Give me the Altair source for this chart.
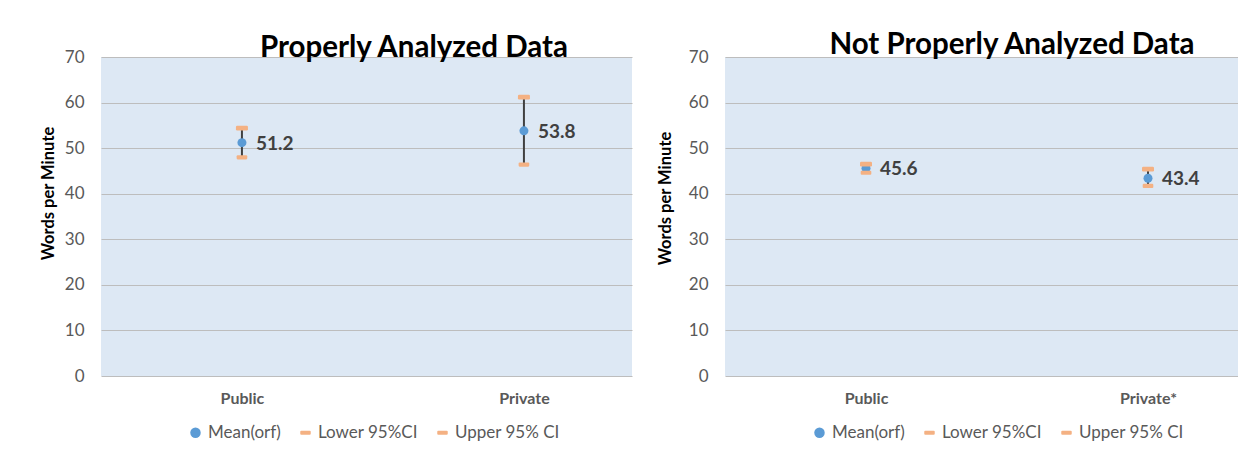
import altair as alt
import pandas as pd

# ---- data ----
titles = ["Properly Analyzed Data", "Not Properly Analyzed Data"]

categories_left = ["Public", "Private"]
mean_left = [51.2, 53.8]
lower_left = [48.0, 46.4]
upper_left = [54.4, 61.2]

categories_right = ["Public", "Private*"]
mean_right = [45.6, 43.4]
lower_right = [44.6, 41.7]
upper_right = [46.5, 45.4]

series_names = ["Mean(orf)", "Lower 95%CI", "Upper 95% CI"]
y_ticks = [0, 10, 20, 30, 40, 50, 60, 70]
y_title = "Words per Minute"

FONT = "Lato"
CAP = ("M-0.8,-0.4 L0.8,-0.4 Q1,-0.4 1,-0.2 L1,0.2 Q1,0.4 0.8,0.4 "
       "L-0.8,0.4 Q-1,0.4 -1,0.2 L-1,-0.2 Q-1,-0.4 -0.8,-0.4 Z")
BLUE = "#5b9bd5"
ORANGE = "#f4b183"


def panel(cats, means, lows, ups, title, width, x_pad, x_align,
          title_dx, title_dy, ytitle_x, ytitle_y):
    wide = pd.DataFrame({"cat": cats, "mean": means, "low": lows, "up": ups})
    n = len(cats)
    long = pd.DataFrame({
        "cat": cats * 3,
        "series": [series_names[0]] * n + [series_names[1]] * n + [series_names[2]] * n,
        "value": means + lows + ups,
        "order": list(range(3 * n)),
    })

    x = alt.X(
        "cat:N", sort=cats,
        scale=alt.Scale(type="point", padding=x_pad, align=x_align),
        axis=alt.Axis(title=None, domain=False, ticks=False, labelAngle=0,
                      labelFont=FONT, labelFontSize=16, labelFontWeight="bold",
                      labelColor="#595959", labelPadding=14),
    )
    y_scale = alt.Scale(domain=[0, 70], nice=False)
    y_axis = alt.Axis(
        values=y_ticks, title=y_title, grid=True, gridColor="#bdbdbd", gridWidth=1.2,
        domain=False, ticks=False, labelFont=FONT, labelFontSize=17,
        labelColor="#595959", labelPadding=17,
        titleFont=FONT, titleFontSize=16.5, titleFontWeight="bold", titleColor="#000000",
        titleAngle=270, titleX=ytitle_x, titleY=ytitle_y, titleBaseline="middle",
        titleAlign="center",
    )

    rule = alt.Chart(wide).mark_rule(color="#404040", strokeWidth=2).encode(
        x=x,
        y=alt.Y("low:Q", scale=y_scale, axis=y_axis),
        y2="up:Q",
    )

    points = alt.Chart(long).mark_point(filled=True, opacity=1, strokeWidth=0).encode(
        x=x,
        y=alt.Y("value:Q", scale=y_scale, axis=y_axis),
        color=alt.Color("series:N", sort=series_names,
                        scale=alt.Scale(domain=series_names, range=[BLUE, ORANGE, ORANGE]),
                        legend=alt.Legend(title=None, orient="none", direction="horizontal",
                                          legendX=86, legendY=367, symbolSize=110,
                                          labelFont=FONT, labelFontSize=17,
                                          labelColor="#595959", labelOffset=4,
                                          columnPadding=16, symbolStrokeWidth=0,
                                          padding=0)),
        shape=alt.Shape("series:N", sort=series_names,
                        scale=alt.Scale(domain=series_names, range=["circle", CAP, CAP])),
        size=alt.Size("series:N", sort=series_names,
                      scale=alt.Scale(domain=series_names, range=[81, 144, 144]),
                      legend=None),
        order=alt.Order("order:Q"),
    )

    labels = alt.Chart(wide).mark_text(
        align="left", baseline="middle", dx=14, dy=1, font=FONT, fontSize=19,
        fontWeight="bold", color="#404040",
    ).encode(
        x=x,
        y=alt.Y("mean:Q", scale=y_scale, axis=y_axis),
        text=alt.Text("mean:Q", format=".1f"),
    )

    return alt.layer(rule, points, labels).properties(
        width=width, height=319,
        title=alt.TitleParams(title, font=FONT, fontSize=29.5, fontWeight="bold",
                              color="#000000", anchor="middle", dx=title_dx,
                              dy=title_dy, offset=4),
    )


left = panel(categories_left, mean_left, lower_left, upper_left, titles[0],
             531, 0.4415, 0.566, 47.5, 19, -53, 136)
right = panel(categories_right, mean_right, lower_right, upper_right, titles[1],
              513, 0.4096, 0.6104, 30.5, 16, -60, 141)

chart = alt.hconcat(left, right, spacing=93, bounds="flush").resolve_legend(
    color="independent", shape="independent"
).properties(
    padding={"left": 32, "top": 21, "right": 0, "bottom": 0},
    background="#ffffff",
).configure_view(fill="#dde8f4", stroke=None)

chart.save("out.html", embed_options={"renderer": "svg", "actions": False})
